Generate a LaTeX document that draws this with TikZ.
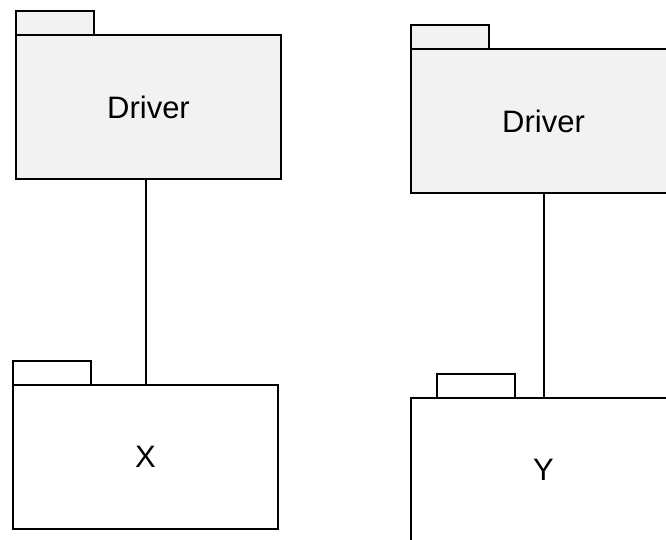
\documentclass[tikz,border=0pt]{standalone}
\usepackage{fontspec}
\setmainfont{Liberation Sans}
\begin{document}
\begin{tikzpicture}[x=1pt,y=-1pt,
  pkgbody/.style={draw=black,line width=2pt,anchor=north west,inner sep=0pt,
    minimum width=265pt,minimum height=144pt,font=\fontsize{31}{37}\selectfont},
  pkgtab/.style={draw=black,line width=2pt,anchor=north west,inner sep=0pt,
    minimum width=78pt,minimum height=24pt},
  grey/.style={fill={rgb,255:red,242;green,242;blue,242}},
  white/.style={fill=white},
  link/.style={draw=black,line width=2pt}]
\useasboundingbox (0,0) rectangle (666,539);
\clip (0,0) rectangle (666,539);
% left
\node[pkgtab,grey] (tabL) at (15,10) {};
\node[pkgbody,grey] (drvL) at (15,34) {Driver};
\node[pkgtab,white] (tabX) at (12,360) {};
\node[pkgbody,white] (X) at (12,384) {X};
\draw[link] (X.north |- drvL.south) -- (X.north);
% right
\node[pkgtab,grey] (tabR) at (410,24) {};
\node[pkgbody,grey] (drvR) at (410,48) {Driver};
\node[pkgtab,white] (tabY) at (436,373) {};
\node[pkgbody,white] (Y) at (410,397) {Y};
\draw[link] (drvR.south) -- (drvR.south |- Y.north);
\end{tikzpicture}
\end{document}
